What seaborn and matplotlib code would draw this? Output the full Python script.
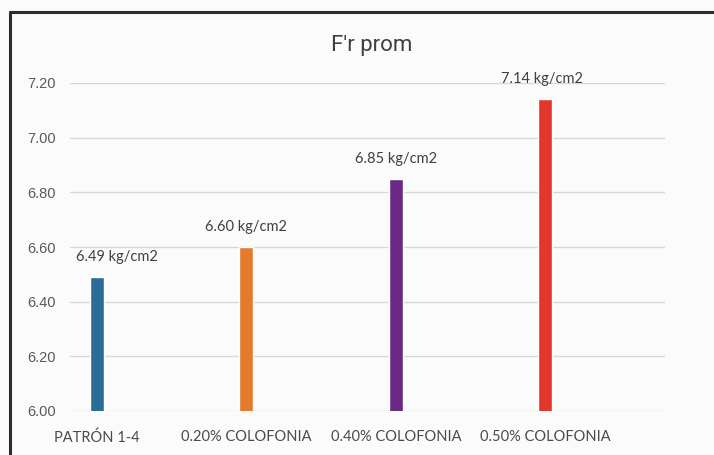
import matplotlib
matplotlib.use("Agg")
import matplotlib.pyplot as plt
from matplotlib.lines import Line2D
import seaborn as sns
import pandas as pd

categories = ["PATRÓN 1-4", "0.20% COLOFONIA", "0.40% COLOFONIA", "0.50% COLOFONIA"]
values = [6.49, 6.60, 6.85, 7.14]
colors = ["#2a6d97", "#e37b2b", "#6a2a84", "#e2382b"]
y_ticks = [6.00, 6.20, 6.40, 6.60, 6.80, 7.00, 7.20]
title = "F'r prom"
unit = "kg/cm2"

df = pd.DataFrame({"categoria": categories, "valor": values})

sns.set_theme(style="white")
plt.rcParams["font.family"] = ["Roboto", "DejaVu Sans"]

fig = plt.figure(figsize=(7.14, 4.55), dpi=100)
fig.patch.set_facecolor("#fbfbfb")
ax = fig.add_axes([70 / 714, 1 - 411 / 455, 595 / 714, 328 / 455])
ax.set_facecolor("#fbfbfb")

sns.barplot(data=df, x="categoria", y="valor", hue="categoria",
            palette=colors, width=0.094, legend=False, ax=ax,
            saturation=1, zorder=3)

ax.set_ylim(6.0, 7.2)
ax.set_xlim(-0.18, 3.8)
ax.set_yticks(y_ticks)
ax.set_yticklabels([f"{t:.2f}" for t in y_ticks],
                   family=["Liberation Sans", "DejaVu Sans"], fontsize=10.5,
                   color="#5a5a5a")
ax.set_xticks(range(len(categories)))
ax.set_xticklabels(categories, fontsize=10.5, color="#4a4a4a",
                   family=["Lato", "DejaVu Sans"])
ax.tick_params(axis="y", length=0, pad=10)
ax.tick_params(axis="x", length=0, pad=14)
ax.set_xlabel("")
ax.set_ylabel("")
ax.yaxis.grid(True, color="#d8d8d8", linewidth=1, zorder=0)
for s in ax.spines.values():
    s.set_visible(False)

# value labels above each bar; the first one sits slightly to the right
label_dx = [20, 0, 0, -3]
for i, (v, dx) in enumerate(zip(values, label_dx)):
    ax.annotate(f"{v:.2f} {unit}", xy=(i, v), xytext=(dx * 0.72, 14.5),
                textcoords="offset points", ha="center", va="center",
                fontsize=10.5, color="#404040",
                family=["Lato", "DejaVu Sans"])

fig.text(372 / 714, 1 - 45 / 455, title, ha="center", va="center",
         fontsize=16, color="#404040", family=["Roboto", "DejaVu Sans"])

# printed frame border on the left and top
fig.add_artist(Line2D([10 / 714, 10 / 714], [0, 1 - 12 / 455],
                      transform=fig.transFigure, color="#2e2b33", linewidth=2.2))
fig.add_artist(Line2D([10 / 714, 1], [1 - 12 / 455, 1 - 12 / 455],
                      transform=fig.transFigure, color="#2e2b33", linewidth=2.2))

fig.savefig("out.png", dpi=100, facecolor=fig.get_facecolor())
